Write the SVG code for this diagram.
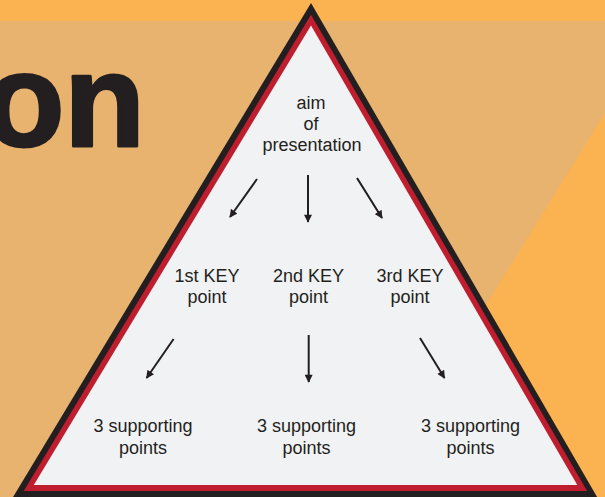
<svg xmlns="http://www.w3.org/2000/svg" width="605" height="497" viewBox="0 0 605 497">
  <style>
    .lbl { font-family: "Liberation Sans", Arial, sans-serif; font-size: 18px; fill: #231F20; text-anchor: middle; }
    .arrow { stroke: #231F20; stroke-width: 2; fill: none; marker-end: url(#ah); }
  </style>
  <defs>
    <marker id="ah" viewBox="0 0 10 10" refX="9" refY="5" markerWidth="9" markerHeight="8" markerUnits="userSpaceOnUse" orient="auto">
      <path d="M0,0 L10,5 L0,10 z" fill="#231F20"/>
    </marker>
  </defs>

  <g id="background">
    <rect x="0" y="0" width="605" height="497" fill="#E8B36F"/>
    <rect x="0" y="0" width="605" height="21" fill="#FBB250"/>
    <polygon points="605,113 367,497 605,497" fill="#FBB250"/>
    <text x="145" y="146" font-family="Liberation Sans, Arial, sans-serif" font-weight="900" font-size="132" fill="#231F20" stroke="#231F20" stroke-width="3" stroke-linejoin="round" text-anchor="end">on</text>
  </g>

  <g id="pyramid">
    <polygon points="311,3 -1.4,521 611,521" fill="#231F20"/>
    <polygon points="311,14.8 23.7,491 587.1,491" fill="#BE1E2D"/>
    <polygon points="311,25.6 33.8,485 577.3,485" fill="#F1F2F4"/>
  </g>

  <g id="aim">
    <text class="lbl" x="311" y="109">aim</text>
    <text class="lbl" x="311" y="130">of</text>
    <text class="lbl" x="312" y="151">presentation</text>
  </g>

  <g id="key1">
    <text class="lbl" x="207" y="282">1st KEY</text>
    <text class="lbl" x="207" y="303">point</text>
  </g>
  <g id="key2">
    <text class="lbl" x="308.5" y="282">2nd KEY</text>
    <text class="lbl" x="308.5" y="303">point</text>
  </g>
  <g id="key3">
    <text class="lbl" x="410" y="282">3rd KEY</text>
    <text class="lbl" x="410" y="303">point</text>
  </g>

  <g id="support1">
    <text class="lbl" x="143" y="432">3 supporting</text>
    <text class="lbl" x="143" y="454">points</text>
  </g>
  <g id="support2">
    <text class="lbl" x="306.5" y="432">3 supporting</text>
    <text class="lbl" x="306.5" y="454">points</text>
  </g>
  <g id="support3">
    <text class="lbl" x="470.5" y="432">3 supporting</text>
    <text class="lbl" x="470.5" y="454">points</text>
  </g>

  <g id="connectors">
    <line class="arrow" x1="257" y1="179" x2="230" y2="217"/>
    <line class="arrow" x1="308" y1="175" x2="308" y2="222"/>
    <line class="arrow" x1="357" y1="178" x2="382" y2="218"/>
    <line class="arrow" x1="173.6" y1="339" x2="146.6" y2="378"/>
    <line class="arrow" x1="308.7" y1="335" x2="308.7" y2="382"/>
    <line class="arrow" x1="420" y1="338" x2="444.5" y2="378"/>
  </g>
</svg>
